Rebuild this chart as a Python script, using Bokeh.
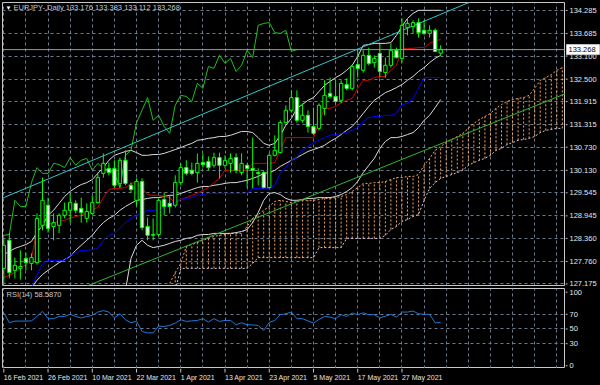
from bokeh.plotting import figure
from bokeh.layouts import column, row
from bokeh.models import Range1d, FixedTicker, Label, Span, ColumnDataSource
from bokeh.embed import file_html
from bokeh.resources import INLINE
from bokeh.core.properties import value

# ---------------- data ----------------
opens = [127.58, 128.31, 127.53, 127.58, 127.84, 127.71, 127.73, 128.70, 129.22, 128.67,
         128.70, 128.96, 129.09, 129.27, 129.14, 128.88, 129.01, 129.29, 130.05, 130.18,
         130.18, 129.79, 130.39, 129.74, 129.35, 129.84, 128.67, 128.44, 128.46, 129.37,
         129.27, 129.22, 129.81, 130.20, 130.13, 130.07, 130.33, 130.36, 130.26, 130.46,
         130.26, 130.31, 130.46, 130.07, 130.26, 130.18, 130.07, 130.07, 129.68, 130.52,
         130.59, 131.37, 131.69, 132.02, 131.43, 131.56, 131.27, 131.22, 131.74, 132.13,
         132.05, 131.95, 132.36, 132.26, 132.88, 132.73, 133.12, 132.93, 133.17, 132.67,
         132.86, 133.25, 133.04, 133.84, 133.87, 133.97, 133.77, 133.69, 133.77, 133.176]
highs = [128.38, 128.49, 127.86, 128.05, 127.99, 127.97, 129.01, 129.94, 129.42, 129.01,
         129.01, 129.29, 129.53, 129.35, 129.42, 129.27, 129.48, 130.07, 130.57, 130.33,
         130.39, 130.46, 130.65, 129.81, 129.92, 129.92, 128.90, 128.88, 129.40, 129.55,
         129.48, 130.00, 130.31, 130.39, 130.33, 130.57, 130.57, 130.49, 130.59, 130.59,
         130.52, 130.57, 130.57, 130.57, 130.31, 130.98, 130.18, 130.13, 130.57, 131.04,
         131.43, 131.82, 132.21, 132.21, 131.87, 131.69, 131.76, 131.87, 132.47, 132.54,
         132.47, 132.47, 132.52, 132.86, 133.25, 133.25, 133.32, 133.12, 133.43, 133.06,
         133.43, 133.32, 134.08, 134.08, 134.03, 134.08, 134.03, 133.90, 133.82, 133.383]
lows = [127.19, 127.32, 127.32, 127.29, 127.53, 127.53, 127.68, 128.57, 128.51, 128.31,
        128.49, 128.88, 128.77, 129.01, 128.77, 128.77, 128.96, 129.27, 129.94, 130.00,
        129.68, 129.68, 129.74, 129.55, 129.22, 128.57, 128.31, 128.31, 128.41, 128.96,
        129.01, 129.16, 129.74, 130.00, 130.00, 129.81, 130.20, 130.13, 130.20, 129.92,
        130.18, 130.07, 130.05, 130.00, 129.68, 129.66, 129.74, 129.66, 129.66, 130.49,
        130.57, 131.35, 131.63, 131.37, 131.37, 131.11, 131.06, 131.17, 131.56, 132.00,
        131.87, 131.87, 132.21, 132.21, 132.54, 132.67, 132.86, 132.80, 132.54, 132.54,
        132.80, 133.04, 132.93, 133.64, 133.69, 133.58, 133.64, 133.58, 133.20, 133.112]
closes = [128.18, 127.47, 127.66, 127.63, 127.73, 127.86, 128.88, 129.35, 128.62, 128.77,
          128.96, 129.09, 129.29, 129.09, 129.03, 129.06, 129.29, 129.94, 130.31, 130.07,
          129.74, 130.39, 129.79, 129.63, 129.84, 128.64, 128.44, 128.46, 129.35, 129.19,
          129.19, 129.81, 130.20, 130.05, 130.05, 130.31, 130.28, 130.20, 130.46, 130.26,
          130.39, 130.44, 130.13, 130.31, 130.18, 130.13, 130.05, 129.68, 130.52, 130.65,
          131.37, 131.69, 132.02, 131.43, 131.56, 131.27, 131.09, 131.82, 132.08, 132.05,
          131.92, 132.39, 132.26, 132.83, 132.78, 133.12, 132.91, 133.04, 132.70, 132.86,
          133.25, 133.06, 133.90, 133.95, 133.97, 133.71, 133.69, 133.77, 133.22, 133.268]

nan = float("nan")
bb_upper = [127.94, 128.02, 128.10, 128.15, 128.20, 128.28, 128.51, 128.70, 128.96, 129.09,
            129.27, 129.45, 129.58, 129.68, 129.76, 129.81, 129.89, 130.05, 130.20, 130.39,
            130.52, 130.57, 130.62, 130.65, 130.59, 130.52, 130.52, 130.54, 130.54, 130.57,
            130.62, 130.67, 130.72, 130.78, 130.83, 130.91, 130.93, 130.96, 130.98, 131.01,
            131.01, 131.04, 131.09, 131.14, 131.14, 131.11, 130.98, 130.83, 130.78, 130.83,
            131.04, 131.30, 131.48, 131.74, 131.84, 131.95, 132.02, 132.18, 132.34, 132.44,
            132.54, 132.62, 132.73, 132.86, 133.09, 133.38, 133.40, 133.43, 133.43, 133.43,
            133.45, 133.64, 133.87, 134.08, 134.21, 134.29, 134.29, 134.29, 134.29, 134.29]
bb_middle = [nan, nan, nan, nan, nan, 127.08, 127.27, 127.42, 127.53, 127.63,
             127.73, 127.81, 127.89, 128.05, 128.18, 128.31, 128.44, 128.62, 128.77, 128.88,
             128.96, 129.09, 129.19, 129.27, 129.35, 129.37, 129.40, 129.42, 129.42, 129.45,
             129.48, 129.48, 129.53, 129.58, 129.63, 129.68, 129.71, 129.71, 129.74, 129.76,
             129.79, 129.81, 129.81, 129.84, 129.87, 129.92, 129.97, 130.05, 130.07, 130.13,
             130.23, 130.31, 130.39, 130.46, 130.54, 130.62, 130.67, 130.72, 130.78, 130.88,
             130.96, 131.06, 131.17, 131.27, 131.43, 131.61, 131.79, 131.95, 132.05, 132.15,
             132.21, 132.28, 132.36, 132.47, 132.57, 132.70, 132.80, 132.93, 133.04, 133.12]
bb_lower = [nan] * 22 + [127.01, 127.84, 128.18, 128.31, 128.18, 128.12, 128.15, 128.18,
            128.23, 128.28, 128.31, 128.36, 128.38, 128.44, 128.46, 128.46, 128.49, 128.49,
            128.49, 128.49, 128.51, 128.54, 128.59, 128.77, 129.03, 129.35, 129.53, 129.55,
            129.50, 129.40, 129.35, 129.35, 129.37, 129.40, 129.40, 129.42, 129.42, 129.42,
            129.45, 129.50, 129.58, 129.68, 129.84, 130.07, 130.26, 130.44, 130.70, 130.88,
            130.98, 130.98, 131.01, 131.06, 131.11, 131.24, 131.43, 131.56, 131.76, 131.97]

tenkan = [127.34, 127.40, 127.47, 127.58, 127.68, 127.84, 128.57, 128.70, 128.72, 128.77,
          128.80, 128.83, 128.88, 128.93, 128.96, 129.03, 129.11, 129.16, 129.42, 129.63,
          129.66, 129.66, 129.68, 129.79, 129.81, 129.66, 129.50, 129.48, 129.48, 129.45,
          129.42, 129.27, 129.37, 129.42, 129.48, 129.53, 129.61, 129.68, 129.81, 129.92,
          130.13, 130.13, 130.13, 130.13, 130.13, 130.31, 130.31, 130.31, 130.31, 130.33,
          130.65, 130.98, 130.98, 130.98, 130.98, 130.98, 130.98, 131.37, 131.74, 131.74,
          131.79, 131.89, 131.95, 132.00, 132.26, 132.47, 132.47, 132.54, 132.57, 132.57,
          132.73, 132.86, 133.30, 133.30, 133.30, 133.32, 133.32, 133.43, 133.50, 133.53]
kijun = [nan, nan, nan, nan, nan, 127.08, 127.40, 127.71, 127.79, 127.79,
         127.79, 127.79, 127.92, 127.99, 128.05, 128.05, 128.07, 128.10, 128.31, 128.44,
         128.49, 128.62, 128.77, 128.88, 128.96, 129.01, 129.09, 129.09, 129.11, 129.16,
         129.22, 129.35, 129.37, 129.40, 129.42, 129.48, 129.50, 129.53, 129.53, 129.53,
         129.53, 129.53, 129.53, 129.53, 129.53, 129.66, 129.66, 129.66, 129.66, 129.74,
         130.05, 130.20, 130.39, 130.46, 130.65, 130.75, 130.85, 130.91, 130.98, 131.04,
         131.06, 131.09, 131.11, 131.17, 131.24, 131.40, 131.50, 131.53, 131.53, 131.56,
         131.56, 131.61, 131.84, 131.87, 132.00, 132.26, 132.54, 132.54, 132.54, 132.54]

cloud_start = 30
senkou_a = [127.19, 127.47, 127.71, 128.15, 128.20, 128.25, 128.31, 128.36, 128.41, 128.44,
            128.46, 128.49, 128.49, 128.49, 128.67, 128.88, 128.98, 129.09, 129.19, 129.32,
            129.35, 129.32, 129.29, 129.32, 129.35, 129.35, 129.35, 129.37, 129.40, 129.40,
            129.42, 129.45, 129.50, 129.58, 129.68, 129.79, 129.79, 129.81, 129.81, 129.84,
            129.89, 129.94, 129.94, 129.97, 129.97, 130.02, 130.26, 130.44, 130.65, 130.75,
            130.85, 130.93, 131.01, 131.09, 131.22, 131.35, 131.45, 131.53, 131.61, 131.74,
            131.84, 131.92, 131.97, 132.00, 132.02, 132.08, 132.26, 132.47, 132.54, 132.62,
            132.73, 132.80]
senkou_b = ([126.88, 127.01] + [127.58] * 13 + [127.71] + [127.86] * 11 + [128.12] * 5
            + [128.36] * 7 + [128.44, 128.59, 128.67, 128.80, 128.85, 128.93, 128.98, 129.35,
            129.66, 129.81, 129.92, 129.97, 130.02, 130.07, 130.13, 130.26, 130.33, 130.39,
            130.44, 130.52, 130.65, 130.70, 130.80, 130.85, 130.91, 130.93, 130.96, 131.01,
            131.11, 131.17, 131.19, 131.22, 131.22])

rsi = [72.0, 58.5, 60.7, 60.7, 60.7, 61.0, 67.0, 74.0, 64.0, 64.0,
       67.0, 67.0, 70.0, 67.0, 65.0, 67.0, 68.5, 73.0, 75.0, 73.0,
       65.0, 70.7, 62.5, 58.5, 60.7, 46.6, 44.7, 44.7, 53.9, 53.4,
       54.8, 58.0, 62.5, 60.3, 61.0, 61.6, 64.0, 59.4, 64.0, 60.3,
       61.6, 61.6, 55.7, 58.5, 55.7, 55.5, 54.8, 48.0, 59.0, 61.6,
       69.4, 70.7, 73.0, 64.0, 64.0, 61.0, 58.0, 63.0, 67.0, 66.0,
       64.0, 69.4, 67.0, 71.7, 69.4, 72.0, 69.4, 69.4, 65.0, 67.5,
       69.9, 66.0, 73.0, 73.0, 74.4, 70.7, 69.9, 69.9, 58.5, 58.587]

trend_cyan_bars = [-1, 90]
trend_cyan_prices = [129.36, 134.85]
trend_green_bars = [10, 105]
trend_green_prices = [126.83, 132.32]

price_ticks = [127.175, 127.760, 128.360, 128.945, 129.545, 130.130, 130.730,
               131.315, 131.915, 132.500, 133.100, 133.685, 134.285]
rsi_ticks = [0, 30, 50, 70, 100]
rsi_levels = [30, 50, 70]
date_tick_bars = [0, 8, 16, 24, 32, 40, 48, 56, 64, 72]
date_labels = ["16 Feb 2021", "26 Feb 2021", "10 Mar 2021", "22 Mar 2021", "1 Apr 2021",
               "13 Apr 2021", "23 Apr 2021", "5 May 2021", "17 May 2021", "27 May 2021"]
grid_bars = list(range(0, 104, 4))
title_text = "EURJPY-,Daily  133.176 133.383 133.112 133.268"
rsi_title = "RSI(14) 58.5870"

# ---------------- styling ----------------
BG = "black"
FRAME = "#c8c8c8"
GRID = "#6c7a8c"
TXT = "#e6e6e6"
FONT = "Liberation Sans"
XR = Range1d(-0.235, 101.57)
PX = 0.026          # price per pixel in the main pane
RPX = 108.7 / 80    # rsi units per pixel in the rsi pane

bars = list(range(len(closes)))
bull = [c >= o for o, c in zip(opens, closes)]
src = ColumnDataSource(dict(
    x=bars, o=opens, h=highs, l=lows, c=closes,
    top=[max(o, c) for o, c in zip(opens, closes)],
    bot=[min(o, c) for o, c in zip(opens, closes)],
    fill=["black" if b else "white" for b in bull],
))


def style_grid(g, ticks):
    g.ticker = FixedTicker(ticks=ticks)
    g.grid_line_color = GRID
    g.grid_line_dash = "3 3"
    g.grid_line_width = 1


def base(fw, fh, top, bottom, left, right, xr, yr, outline=FRAME):
    f = figure(frame_width=fw, frame_height=fh, min_border_left=left, min_border_right=right,
               min_border_top=top, min_border_bottom=bottom, x_range=xr, y_range=yr,
               output_backend="svg", toolbar_location=None,
               x_axis_location=None, y_axis_location=None,
               background_fill_color=BG, border_fill_color=BG)
    f.outline_line_color = outline
    return f


# ---------------- main price pane ----------------
p = base(563, 283, 2, 1, 2, 0, XR, Range1d(127.135, 134.493))
style_grid(p.xgrid[0], grid_bars)
style_grid(p.ygrid[0], price_ticks)

cbars = list(range(cloud_start, cloud_start + len(senkou_a)))
p.segment(x0=cbars, y0=senkou_b, x1=cbars, y1=senkou_a, line_color="#f4a460",
          line_dash="2 2", line_width=1)
p.line(cbars, senkou_a, line_color="#f4a460", line_dash="2 2", line_width=1)
p.line(cbars, senkou_b, line_color="#d8bfd8", line_dash="2 2", line_width=1)

for band in (bb_upper, bb_middle, bb_lower):
    p.line(bars, band, line_color="#d9d9d9", line_width=1)

p.line(bars, tenkan, line_color="#d00000", line_width=1)
p.line(bars, kijun, line_color="#0000ff", line_width=1)
p.line([b - 26 for b in bars[26:]], closes[26:], line_color="#1fbf1f", line_width=1)

p.line(trend_cyan_bars, trend_cyan_prices, line_color="#2ec8c8", line_width=1)
p.line(trend_green_bars, trend_green_prices, line_color="#2fb52f", line_width=1)

p.add_layout(Span(location=closes[-1], dimension="width", line_color="#8e9aaa", line_width=1))

p.segment(x0="x", y0="h", x1="x", y1="l", source=src, line_color="#00ff00", line_width=1)
p.vbar(x="x", width=0.6, top="top", bottom="bot", source=src, fill_color="fill",
       line_color="#00ff00", line_width=1)

p.add_layout(Label(x=3, y=278, x_units="screen", y_units="screen", text="▼",
                   text_color="white", text_font=FONT, text_font_size="6px",
                   text_baseline="middle"))
p.add_layout(Label(x=11, y=278, x_units="screen", y_units="screen", text=title_text,
                   text_color="#c8c8c8", text_font=FONT, text_font_size="7.5px",
                   text_baseline="middle"))

# price scale strip (right of the main pane), frame y 0..288
pa = base(35, 288, 0, 0, 0, 0, Range1d(0, 35),
          Range1d(127.135 - 3 * PX, 134.493 + 2 * PX), outline=None)
pa.grid.visible = False
psrc = ColumnDataSource(dict(y=price_ticks, t=["%.3f" % v for v in price_ticks]))
pa.segment(x0=0, y0="y", x1=2, y1="y", source=psrc, line_color=FRAME)
pa.text(x=4, y="y", text="t", source=psrc, text_color=TXT, text_font=value(FONT),
        text_font_size="7.5px", text_baseline="middle", text_align="left")
pa.quad(left=1, right=34, bottom=closes[-1] - 5 * PX, top=closes[-1] + 5 * PX,
        fill_color="white", line_color="#c8c8c8")
pa.text(x=[3], y=[closes[-1]], text=["%.3f" % closes[-1]], text_color="black",
        text_font=value(FONT), text_font_size="7.5px", text_baseline="middle",
        text_align="left")

# ---------------- RSI pane ----------------
r = base(563, 80, 2, 0, 2, 0, XR, Range1d(-3.7, 105))
style_grid(r.xgrid[0], grid_bars)
style_grid(r.ygrid[0], rsi_levels)
r.line(bars, rsi, line_color="#1e78dc", line_width=1)
r.add_layout(Label(x=4, y=74, x_units="screen", y_units="screen", text=rsi_title,
                   text_color="#c8c8c8", text_font=FONT, text_font_size="7.5px",
                   text_baseline="middle"))

# RSI scale strip, frame y 288..385
ra = base(35, 97, 0, 0, 0, 0, Range1d(0, 35),
          Range1d(-3.7 - 17 * RPX, 105), outline=None)
ra.grid.visible = False
rsrc = ColumnDataSource(dict(y=rsi_ticks, t=[str(v) for v in rsi_ticks]))
ra.segment(x0=0, y0="y", x1=2, y1="y", source=rsrc, line_color=FRAME)
ra.text(x=4, y="y", text="t", source=rsrc, text_color=TXT, text_font=value(FONT),
        text_font_size="7.5px", text_baseline="middle", text_align="left")

# ---------------- date strip ----------------
d = base(563, 17, 0, 0, 2, 0, XR, Range1d(0, 17), outline=None)
d.grid.visible = False
dsrc = ColumnDataSource(dict(x=date_tick_bars, t=date_labels,
                             y0=[17] * len(date_tick_bars), y1=[13] * len(date_tick_bars),
                             ym=[8] * len(date_tick_bars)))
d.segment(x0="x", y0="y0", x1="x", y1="y1", source=dsrc, line_color=FRAME)
d.text(x="x", y="ym", text="t", source=dsrc, text_color=TXT, text_font=value(FONT),
       text_font_size="7px", text_align="left", text_baseline="middle")

left = column(p, r, d, spacing=0)
right = column(pa, ra, spacing=0)
layout = row(left, right, spacing=0, styles={"background-color": "black"})
open("out.html", "w").write(file_html(layout, INLINE))
